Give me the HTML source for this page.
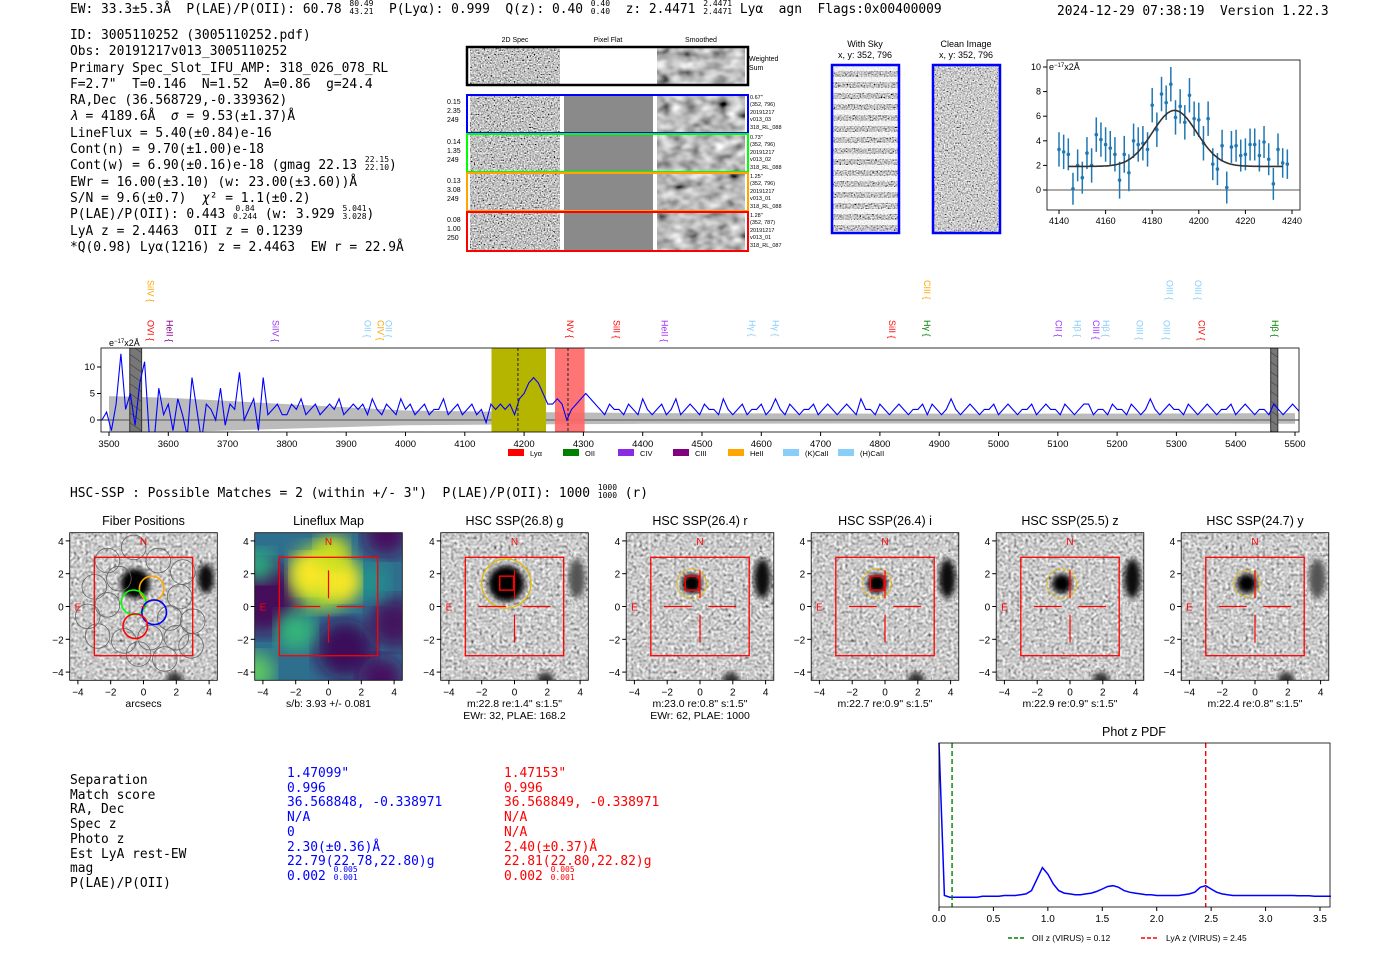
<!DOCTYPE html>
<html><head><meta charset="utf-8">
<style>
body{margin:0;background:#fff;width:1400px;height:953px;position:relative;overflow:hidden;font-family:"Liberation Sans","DejaVu Sans",sans-serif}
.m{position:absolute;font-family:"DejaVu Sans Mono","Liberation Mono",monospace;font-size:12.9px;white-space:pre;line-height:15px;color:#000}
.fr{display:inline-block;vertical-align:middle;font-size:8px;line-height:8px;text-align:center;margin-top:-4px}
.fr span{display:block}
svg{position:absolute;left:0;top:0}
</style></head><body>
<div class="m" style="left:70px;top:2px">EW: 33.3±5.3Å  P(LAE)/P(OII): 60.78 <span class="fr"><span>80.49</span><span>43.21</span></span>  P(Lyα): 0.999  Q(z): 0.40 <span class="fr"><span>0.40</span><span>0.40</span></span>  z: 2.4471 <span class="fr"><span>2.4471</span><span>2.4471</span></span> Lyα  agn  Flags:0x00400009</div>
<div class="m" style="left:1057px;top:4px">2024-12-29 07:38:19  Version 1.22.3</div>
<div class="m" style="left:70px;top:28px;line-height:16.3px">ID: 3005110252 (3005110252.pdf)
Obs: 20191217v013_3005110252
Primary Spec_Slot_IFU_AMP: 318_026_078_RL
F=2.7"  T=0.146  N=1.52  A=0.86  g=24.4
RA,Dec (36.568729,-0.339362)
<i>λ</i> = 4189.6Å  <i>σ</i> = 9.53(±1.37)Å
LineFlux = 5.40(±0.84)e-16
Cont(n) = 9.70(±1.00)e-18
Cont(w) = 6.90(±0.16)e-18 (gmag 22.13 <span class="fr"><span>22.15</span><span>22.10</span></span>)
EWr = 16.00(±3.10) (w: 23.00(±3.60))Å
S/N = 9.6(±0.7)  <i>χ</i>² = 1.1(±0.2)
P(LAE)/P(OII): 0.443 <span class="fr"><span>0.84</span><span>0.244</span></span> (w: 3.929 <span class="fr"><span>5.041</span><span>3.028</span></span>)
LyA z = 2.4463  OII z = 0.1239
*Q(0.98) Lyα(1216) z = 2.4463  EW r = 22.9Å</div>
<div class="m" style="left:70px;top:486px">HSC-SSP : Possible Matches = 2 (within +/- 3")  P(LAE)/P(OII): 1000 <span class="fr"><span>1000</span><span>1000</span></span> (r)</div>
<div class="m" style="left:70px;top:774px;line-height:14.7px">Separation
Match score
RA, Dec
Spec z
Photo z
Est LyA rest-EW
mag
P(LAE)/P(OII)</div>
<div class="m" style="left:287px;top:767px;line-height:14.7px;color:#00f">1.47099"
0.996
36.568848, -0.338971
N/A
0
2.30(±0.36)Å
22.79(22.78,22.80)g
0.002 <span class="fr"><span>0.005</span><span>0.001</span></span></div>
<div class="m" style="left:504px;top:767px;line-height:14.7px;color:#f00">1.47153"
0.996
36.568849, -0.338971
N/A
N/A
2.40(±0.37)Å
22.81(22.80,22.82)g
0.002 <span class="fr"><span>0.005</span><span>0.001</span></span></div>

<svg id="S" width="1400" height="953" xmlns="http://www.w3.org/2000/svg" font-family="Liberation Sans, DejaVu Sans, sans-serif">
<defs>
<filter id="nzF" x="0" y="0" width="100%" height="100%"><feTurbulence type="fractalNoise" baseFrequency="0.7" numOctaves="1" seed="4"/><feColorMatrix type="matrix" values="0.33 0.33 0.33 0 0 0.33 0.33 0.33 0 0 0.33 0.33 0.33 0 0 0 0 0 0 1"/><feComponentTransfer><feFuncR type="linear" slope="3.2" intercept="-1.05"/><feFuncG type="linear" slope="3.2" intercept="-1.05"/><feFuncB type="linear" slope="3.2" intercept="-1.05"/></feComponentTransfer></filter>
<filter id="nzS" x="0" y="0" width="100%" height="100%"><feTurbulence type="fractalNoise" baseFrequency="0.07 0.1" numOctaves="2" seed="7"/><feColorMatrix type="matrix" values="0.33 0.33 0.33 0 0 0.33 0.33 0.33 0 0 0.33 0.33 0.33 0 0 0 0 0 0 1"/><feComponentTransfer><feFuncR type="linear" slope="2.2" intercept="-0.6"/><feFuncG type="linear" slope="2.2" intercept="-0.6"/><feFuncB type="linear" slope="2.2" intercept="-0.6"/></feComponentTransfer></filter>
<filter id="nzH" x="0" y="0" width="100%" height="100%"><feTurbulence type="fractalNoise" baseFrequency="0.35" numOctaves="1" seed="11"/><feColorMatrix type="matrix" values="0.33 0.33 0.33 0 0 0.33 0.33 0.33 0 0 0.33 0.33 0.33 0 0 0 0 0 0 1"/><feComponentTransfer><feFuncR type="linear" slope="2.2" intercept="-0.5"/><feFuncG type="linear" slope="2.2" intercept="-0.5"/><feFuncB type="linear" slope="2.2" intercept="-0.5"/></feComponentTransfer></filter>
<filter id="bl3"><feGaussianBlur stdDeviation="3"/></filter>
<filter id="bl8"><feGaussianBlur stdDeviation="9"/></filter>
<pattern id="stripes" width="10" height="11" patternUnits="userSpaceOnUse"><rect width="10" height="5" fill="#fff" opacity="0.8"/></pattern>
<pattern id="hatch" width="8" height="8" patternUnits="userSpaceOnUse" patternTransform="rotate(-55)"><line x1="0" y1="0" x2="0" y2="8" stroke="#333" stroke-width="1"/></pattern>
</defs>

<g font-size="7">
<text x="515" y="42" text-anchor="middle">2D Spec</text>
<text x="608" y="42" text-anchor="middle">Pixel Flat</text>
<text x="701" y="42" text-anchor="middle">Smoothed</text>
<rect x="470" y="48" width="90" height="36" filter="url(#nzF)"/>
<rect x="657" y="48" width="88" height="36" filter="url(#nzS)"/>
<rect x="467" y="47" width="281" height="38" fill="none" stroke="#000" stroke-width="2.5"/>
<text x="749" y="61">Weighted</text><text x="749" y="70">Sum</text>
<rect x="470" y="96" width="90" height="155" filter="url(#nzF)"/>
<rect x="564" y="96" width="89" height="155" fill="#8a8a8a"/>
<rect x="657" y="96" width="88" height="155" filter="url(#nzS)"/>
<rect x="467" y="95" width="281" height="38" fill="none" stroke="#00f" stroke-width="2"/>
<rect x="467" y="134" width="281" height="38" fill="none" stroke="#0f0" stroke-width="2"/>
<rect x="467" y="173" width="281" height="38" fill="none" stroke="orange" stroke-width="2"/>
<rect x="467" y="212" width="281" height="39" fill="none" stroke="#f00" stroke-width="2"/>
<g font-size="7"><text x="447" y="104">0.15</text><text x="447" y="113">2.35</text><text x="447" y="122">249</text>
<text x="447" y="144">0.14</text><text x="447" y="153">1.35</text><text x="447" y="162">249</text>
<text x="447" y="183">0.13</text><text x="447" y="192">3.08</text><text x="447" y="201">249</text>
<text x="447" y="222">0.08</text><text x="447" y="231">1.00</text><text x="447" y="240">250</text></g>
<g font-size="5.5"><text x="750" y="99">0.67"</text><text x="750" y="106">(352, 796)</text><text x="750" y="114">20191217</text><text x="750" y="121">v013_03</text><text x="750" y="129">318_RL_088</text>
<text x="750" y="139">0.73"</text><text x="750" y="146">(352, 796)</text><text x="750" y="154">20191217</text><text x="750" y="161">v013_02</text><text x="750" y="169">318_RL_088</text>
<text x="750" y="178">1.25"</text><text x="750" y="185">(352, 796)</text><text x="750" y="193">20191217</text><text x="750" y="200">v013_01</text><text x="750" y="208">318_RL_088</text>
<text x="750" y="217">1.28"</text><text x="750" y="224">(352, 787)</text><text x="750" y="232">20191217</text><text x="750" y="239">v013_01</text><text x="750" y="247">318_RL_087</text></g>
</g>
<g>
<text x="865" y="47" font-size="9" text-anchor="middle">With Sky</text><text x="865" y="58" font-size="9" text-anchor="middle">x, y: 352, 796</text>
<rect x="832" y="65" width="67" height="168" filter="url(#nzF)"/>
<rect x="832" y="65" width="67" height="168" fill="url(#stripes)"/>
<rect x="832" y="65" width="67" height="168" fill="none" stroke="#00f" stroke-width="2.5"/>
</g>
<g>
<text x="966" y="47" font-size="9" text-anchor="middle">Clean Image</text><text x="966" y="58" font-size="9" text-anchor="middle">x, y: 352, 796</text>
<rect x="933" y="65" width="67" height="168" filter="url(#nzF)" opacity="0.85"/>
<rect x="933" y="65" width="67" height="168" fill="none" stroke="#00f" stroke-width="2.5"/>
</g>
<g id="zoomG"></g>
<g id="specG"></g>
<g id="imgG"></g>
<g id="pdfG"></g>
</svg>

<script>
// ---------- data ----------
const zoomWave0 = 4140, zoomStep = 2;
const zoomFlux = [3.3,3.1,2.9,0.1,2.0,1.0,3.0,2.0,4.5,4.1,3.7,3.4,2.9,0.8,2.9,1.4,4.0,3.7,3.8,3.3,6.9,4.9,7.8,7.1,8.6,5.9,6.8,5.5,7.7,5.8,5.7,3.8,5.8,2.1,1.7,3.6,0.2,3.5,3.6,2.8,2.9,3.7,3.7,2.8,3.9,2.5,0.5,3.3,2.2,2.1];
const zoomErr = [1.4,1.4,1.3,1.3,1.3,1.3,1.3,1.4,1.4,1.4,1.4,1.4,1.4,1.5,1.5,1.5,1.4,1.4,1.4,1.4,1.4,1.4,1.4,1.4,1.4,1.4,1.4,1.4,1.4,1.4,1.4,1.4,1.4,1.3,1.3,1.3,1.3,1.3,1.3,1.3,1.3,1.3,1.3,1.3,1.3,1.3,1.3,1.3,1.2,1.2];
const fitParams = [4189.6, 9.53, 4.55, 1.92];
const zoomXTicks = [4140,4160,4180,4200,4220,4240];
const zoomYTicks = [0,2,4,6,8,10];

const specWave0 = 3488, specStep = 8;
const specFlux = [0,1.5,-2,3,12.5,2,5,-1,7,11,
-3,-4,6,1,3,-2,4,1,-3,8,2,-4,3,2,0,6,-1,3,2,9,0,2,4,-2,8,1,2,3,1,
1,3,2,4,1,2,3,1,2,3,2,4,1,2,3,2,3,1,4,2,1,3,2,1,4,2,3,1,2,3,1,2,2,4,1,2,3,1,2,3,1,2,-0.5,3,2,3,2,
3,1,4,5,7,8,7,5,3,3,4,3,
0,2,3,4,5,4,3,2,1,3,2,
2,1,3,2,1,4,2,1,2,3,1,2,4,1,2,3,2,1,3,2,2,1,4,2,1,2,3,1,2,2,3,1,2,4,2,1,3,2,1,2,2,3,1,2,3,2,1,2,3,2,1,4,2,2,1,3,2,1,2,3,2,1,2,2,3,1,3,2,1,2,4,2,1,2,3,2,1,2,2,3,1,2,3,2,1,2,2,3,1,2,3,2,2,1,3,2,1,2,3,3,1,2,2,1,3,2,2,1,3,2,1,2,4,2,1,2,3,2,2,1,3,2,1,2,3,2,1,2,2,3,1,2,3,2,1,2,2,1,3,2,1,2,3,2,1,2,2];
const errWave = [3500,3600,3700,3800,3900,4000,4200,4400,4800,5200,5500];
const errVal = [4.5,4.2,3.6,3.0,2.4,1.8,1.5,1.3,1.2,1.2,1.3];
const specXTicks = [3500,3600,3700,3800,3900,4000,4100,4200,4300,4400,4500,4600,4700,4800,4900,5000,5100,5200,5300,5400,5500];
const specYTicks = [0,5,10];
const lineNames = ["SiIV","OVI","HeII","SiIV","OII","CIV","OII","NV","SiII","HeII","Hγ","Hγ","SiII","CIII","Hγ","CII","Hβ","CIII","Hβ","OIII","OIII","OIII","OIII","CIV","Hβ"];
const lineWaves = [3569,3569,3601,3780,3935,3957,3970,4276,4355,4436,4583,4623,4819,4878,4878,5100,5132,5163,5180,5237,5282,5287,5335,5341,5465];
const lineColors = ["orange","red","purple","#9b30ff","#87cefa","orange","#87cefa","red","red","#9b30ff","#87cefa","#87cefa","red","orange","green","#9b30ff","#87cefa","#9b30ff","#87cefa","#87cefa","#87cefa","#87cefa","#87cefa","red","green"];
const lineTop = [1,0,0,0,0,0,0,0,0,0,0,0,0,1,0,0,0,0,0,0,0,1,1,0,0];

const pdfZ0 = 0, pdfStep = 0.05;
const pdfVals = [1.0,0.07,0.06,0.06,0.06,0.06,0.06,0.06,0.065,0.065,0.065,0.065,0.07,0.07,0.07,0.075,0.08,0.1,0.17,0.24,0.2,0.14,0.1,0.085,0.08,0.075,0.075,0.08,0.085,0.095,0.11,0.125,0.13,0.12,0.1,0.09,0.085,0.08,0.075,0.075,0.07,0.07,0.07,0.07,0.07,0.075,0.08,0.09,0.12,0.13,0.11,0.09,0.08,0.075,0.07,0.07,0.07,0.07,0.07,0.07,0.07,0.07,0.07,0.07,0.07,0.07,0.068,0.068,0.068,0.066,0.066,0.065,0.065];
const pdfXTicks = [0,0.5,1.0,1.5,2.0,2.5,3.0,3.5];
const pdfMarkers = [0.12, 2.45];

const panelTitles = ["Fiber Positions","Lineflux Map","HSC SSP(26.8) g","HSC SSP(26.4) r","HSC SSP(26.4) i","HSC SSP(25.5) z","HSC SSP(24.7) y"];
const panelSub1 = ["arcsecs","s/b: 3.93 +/- 0.081","m:22.8  re:1.4\"  s:1.5\"","m:23.0  re:0.8\"  s:1.5\"","m:22.7  re:0.9\"  s:1.5\"","m:22.9  re:0.9\"  s:1.5\"","m:22.4  re:0.8\"  s:1.5\""];
const panelSub2 = ["","","EWr: 32, PLAE: 168.2","EWr: 62, PLAE: 1000","","",""];
const apRadius = [0,0,1.5,0.9,0.9,0.9,0.8];

const NS="http://www.w3.org/2000/svg";
function mk(tag,attrs,parent){const e=document.createElementNS(NS,tag);for(const k in attrs)e.setAttribute(k,attrs[k]);parent.appendChild(e);return e;}
function txt(s,attrs,parent){const e=mk('text',attrs,parent);e.textContent=s;return e;}

// ---------- zoom plot ----------
(function(){
 const g=document.getElementById('zoomG');
 const L=1047,R=1300,T=60,B=210;
 const X=w=>1059+(w-4140)*(1292-1059)/100, Y=v=>190-v*12.3;
 const ax=mk('rect',{x:L,y:T,width:R-L,height:B-T,fill:'none',stroke:'#000','stroke-width':0.8},g);
 
 
 mk('line',{x1:L,x2:R,y1:Y(0),y2:Y(0),stroke:'#555','stroke-width':1},g);
 zoomXTicks.forEach(t=>{mk('line',{x1:X(t),x2:X(t),y1:B,y2:B+4,stroke:'#000'},g);const e=txt(t,{x:X(t),y:B+14,'font-size':9,'text-anchor':'middle'},g);
  
  });
 zoomYTicks.forEach(t=>{mk('line',{x1:L-4,x2:L,y1:Y(t),y2:Y(t),stroke:'#000'},g);const e=txt(t,{x:L-6,y:Y(t)+3,'font-size':9,'text-anchor':'end'},g);
  
  });
 const u=txt('e',{x:L+2,y:T+10,'font-size':9},g);u.innerHTML='e<tspan dy="-3" font-size="6">−17</tspan><tspan dy="3">x2Å</tspan>';
 
 
 zoomFlux.forEach((v,i)=>{const w=zoomWave0+i*zoomStep;
  const eb=mk('line',{x1:X(w),x2:X(w),y1:Y(v-zoomErr[i]),y2:Y(v+zoomErr[i]),stroke:'#1f77b4','stroke-width':1.5},g);
  
  
  const p=mk('circle',{cx:X(w),cy:Y(v),r:1.8,fill:'#1f77b4'},g);
  
  });
 let d='';for(let w=4144;w<=4236;w+=0.5){const v=fitParams[3]+fitParams[2]*Math.exp(-0.5*((w-fitParams[0])/fitParams[1])**2);d+=(d?'L':'M')+X(w).toFixed(1)+','+Y(v).toFixed(1);}
 const f=mk('path',{d:d,fill:'none',stroke:'#333','stroke-width':1.6},g);
 
 
})();

// ---------- full spectrum ----------
(function(){
 const g=document.getElementById('specG');
 const L=101,R=1299,T=348,B=432;
 const X=w=>109+(w-3500)*(1295-109)/2000, Y=v=>420-v*5.3;
 const cp=mk('clipPath',{id:'spc'},g);mk('rect',{x:L,y:T,width:R-L,height:B-T},cp);
 const inner=mk('g',{'clip-path':'url(#spc)'},g);
 let up='',dn='';
 for(let i=0;i<errWave.length;i++){up+=(i?'L':'M')+X(errWave[i])+','+Y(errVal[i]);}
 for(let i=errWave.length-1;i>=0;i--){dn+='L'+X(errWave[i])+','+Y(-errVal[i]*0.55);}
 const band=mk('path',{d:up+dn+'Z',fill:'#bbb'},inner);
 
 
 mk('line',{x1:L,x2:R,y1:Y(0),y2:Y(0),stroke:'#777','stroke-width':1.5},inner);
 const yb=mk('rect',{x:X(4145),y:T,width:X(4237)-X(4145),height:B-T,fill:'#b5b500'},inner);
 
 
 const rb=mk('rect',{x:X(4252),y:T,width:X(4302)-X(4252),height:B-T,fill:'#f66',opacity:0.9},inner);
 
 
 [[3535,3555],[5459,5471]].forEach(r=>{const gb=mk('rect',{x:X(r[0]),y:T,width:X(r[1])-X(r[0]),height:B-T,fill:'#777',stroke:'#333'},inner);
  
  
  mk('rect',{x:X(r[0]),y:T,width:X(r[1])-X(r[0]),height:B-T,fill:'url(#hatch)'},inner);});
 let d='';specFlux.forEach((v,i)=>{d+=(i?'L':'M')+X(specWave0+i*specStep).toFixed(1)+','+Y(v).toFixed(1);});
 const ln=mk('path',{d:d,fill:'none',stroke:'#00f','stroke-width':1.1},inner);
 
 
 [4189.6,4274].forEach(w=>mk('line',{x1:X(w),x2:X(w),y1:T,y2:B,stroke:'#222','stroke-dasharray':'3,2'},inner));
 const fr=mk('rect',{x:L,y:T,width:R-L,height:B-T,fill:'none',stroke:'#000','stroke-width':0.8},g);
 
 
 specXTicks.forEach(t=>{mk('line',{x1:X(t),x2:X(t),y1:B,y2:B+4,stroke:'#000'},g);const e=txt(t,{x:X(t),y:B+15,'font-size':9.5,'text-anchor':'middle'},g);
  
  });
 specYTicks.forEach(t=>{mk('line',{x1:L-4,x2:L,y1:Y(t),y2:Y(t),stroke:'#000'},g);const e=txt(t,{x:L-6,y:Y(t)+3,'font-size':9.5,'text-anchor':'end'},g);
  
  });
 const u=txt('',{x:109,y:346,'font-size':9},g);u.innerHTML='e<tspan dy="-3" font-size="6">−17</tspan><tspan dy="3">x2Å</tspan>';
 
 
 lineNames.forEach((n,i)=>{const x=X(lineWaves[i]);const y=lineTop[i]?280:320;
  const e=txt(n+' {',{x:x,y:y,'font-size':9,fill:lineColors[i],transform:`rotate(90 ${x} ${y})`,'dominant-baseline':'middle'},g);
  
  });
 const legN=["Lyα","OII","CIV","CIII","HeII","(K)CaII","(H)CaII"];
 const legC=["red","green","#8a2be2","purple","orange","#87cefa","#87cefa"];
 legN.forEach((n,i)=>{const x=508+i*55;const r=mk('rect',{x:x,y:449,width:16,height:7,fill:legC[i]},g);
  
  
  const e=txt(n,{x:x+22,y:456,'font-size':7.5},g);
  
  });
})();

// ---------- imaging panels ----------
(function(){
 const g=document.getElementById('imgG');
 const cxs=[143.5,328.5,514.5,700,885,1070,1255], cy=606.5, s=16.4;
 cxs.forEach((cx,p)=>{
  const pg=mk('g',{},g);
  
  
  const L=cx-4.5*s,T=cy-4.5*s,W=9*s;
  const A=(x,y)=>[cx+x*s,cy-y*s];
  const cid='pc'+p;const cp=mk('clipPath',{id:cid},pg);mk('rect',{x:L,y:T,width:W,height:W},cp);
  const ig=mk('g',{'clip-path':`url(#${cid})`},pg);
  if(p===1){
   mk('rect',{x:L,y:T,width:W,height:W,fill:'#2f6f8e'},ig);
   [[-4,0.5,2.2,'#440f5a'],[1,-2.6,1.8,'#3b0f5a'],[4,-1,1.6,'#43185f'],[3.5,4.4,1.4,'#46105f'],[3.2,-4.4,1.4,'#46105f'],[-4.3,2.5,1.0,'#2ab07f'],[-4.5,-4,1.2,'#5ec962'],[-2,-1.5,1.2,'#35b779'],[2.5,1.5,1.2,'#21918c'],[-0.3,1.8,2.0,'#b5de2b'],[-1.0,2.0,1.2,'#fde725'],[0.8,1.5,1.1,'#fde725'],[0.2,3.3,1.0,'#d0e11c']].forEach(b=>{const [x,y]=A(b[0],b[1]);mk('circle',{cx:x,cy:y,r:b[2]*s,fill:b[3],filter:'url(#bl8)'},ig);});
  } else {
   mk('rect',{x:L,y:T,width:W,height:W,filter:'url(#nzH)'},ig);
   const [sx,sy]=A(-0.5,1.4);
   const sr=p===0?0.9:(p===2?1.1:0.6);
   mk('circle',{cx:sx,cy:sy,r:sr*s,fill:'#000',filter:'url(#bl3)'},ig);
   const [ex,ey]=A(3.8,1.7);
   mk('ellipse',{cx:ex,cy:ey,rx:0.5*s,ry:(p===0?0.9:1.2)*s,fill:(p===2||p===6)?'#555':'#111',filter:'url(#bl3)'},ig);
   const [bx,by]=A(1.9,-4.5);mk('circle',{cx:bx,cy:by,r:0.5*s,fill:'#333',filter:'url(#bl3)'},ig);
  }
  if(p===0){
   const fib=[[-2.2,2.8],[-0.6,3.6],[0.9,2.8],[2.4,2.1],[-3.0,1.2],[-1.5,1.7],[2.2,0.6],[-2.2,0.1],[-3.4,-0.6],[1.6,-0.7],[-2.8,-1.8],[-1.2,-2.1],[0.4,-1.9],[2.0,-1.9],[-0.3,-2.9],[1.3,-3.2],[2.9,-2.4],[3.0,-0.9]];
   fib.forEach(f=>{const [x,y]=A(f[0],f[1]);mk('circle',{cx:x,cy:y,r:0.75*s,fill:'none',stroke:'#666','stroke-width':0.8},ig);});
   [[0.5,1.1,'orange'],[-0.6,0.25,'#0f0'],[0.65,-0.35,'#00f'],[-0.5,-1.2,'#f00']].forEach(f=>{const [x,y]=A(f[0],f[1]);const c=mk('circle',{cx:x,cy:y,r:0.75*s,fill:'none',stroke:f[2],'stroke-width':1.6},ig);
    
    });
  }
  if(p>=2){
   const [ex,ey]=A(3.8,1.7);mk('ellipse',{cx:ex,cy:ey,rx:0.8*s,ry:1.6*s,fill:'none',stroke:'#eee','stroke-dasharray':'2,2'},ig);
   const [bx,by]=A(1.9,-4.4);mk('circle',{cx:bx,cy:by,r:1.0*s,fill:'none',stroke:'#eee','stroke-dasharray':'2,2'},ig);
   const [ax,ay]=A(-0.5,1.4);const ap=mk('circle',{cx:ax,cy:ay,r:apRadius[p]*s,fill:'none',stroke:'#e6b800','stroke-width':1.3,'stroke-dasharray':p===2?'':'3,2'},ig);
   
   
   if(p===2||p===3||p===4){mk('rect',{x:ax-0.4*s,y:ay-0.45*s,width:0.85*s,height:0.85*s,fill:'none',stroke:'#f00','stroke-width':1.5},ig);}
  }
  const [rx,ry]=A(-3,3);mk('rect',{x:rx,y:ry,width:6*s,height:6*s,fill:'none',stroke:'#f00','stroke-width':1.3},ig);
  if(p>=1){[[-2.2,0,-0.5,0],[0.5,0,2.2,0],[0,0.5,0,2.2],[0,-0.5,0,-2.2]].forEach(l=>{const [x1,y1]=A(l[0],l[1]),[x2,y2]=A(l[2],l[3]);mk('line',{x1,y1,x2,y2,stroke:'#f00','stroke-width':1.2},ig);});}
  else {mk('text',{x:cx-3,y:cy+4,'font-size':10,fill:'#f00'},ig).textContent='+';}
  const [nx,ny]=A(0,4);txt('N',{x:nx,y:ny+4,'font-size':10,fill:'#f00','text-anchor':'middle'},ig);
  const [Ex,Ey]=A(-4,0);txt('E',{x:Ex,y:Ey+4,'font-size':10,fill:'#f00','text-anchor':'middle'},ig);
  mk('rect',{x:L,y:T,width:W,height:W,fill:'none',stroke:'#000','stroke-width':0.8},pg);
  [-4,-2,0,2,4].forEach(t=>{const [x,y]=A(t,t);
   mk('line',{x1:x,x2:x,y1:T+W,y2:T+W+4,stroke:'#000'},pg);
   txt(String(t).replace('-','−'),{x:x,y:T+W+15,'font-size':10,'text-anchor':'middle'},pg);
   mk('line',{x1:L-4,x2:L,y1:y,y2:y,stroke:'#000'},pg);
   txt(String(t).replace('-','−'),{x:L-6,y:y+4,'font-size':10,'text-anchor':'end'},pg);});
  const ti=txt(panelTitles[p],{x:cx,y:525,'font-size':12.5,'text-anchor':'middle'},pg);
  
  
  txt(panelSub1[p],{x:cx,y:707,'font-size':10.5,'text-anchor':'middle'},pg);
  if(panelSub2[p])txt(panelSub2[p],{x:cx,y:719,'font-size':10.5,'text-anchor':'middle'},pg);
 });
})();

// ---------- phot-z PDF ----------
(function(){
 const g=document.getElementById('pdfG');
 const L=939,R=1330,T=743,B=907;
 const X=z=>939+z*(1320-939)/3.5, Y=v=>B-v*(B-T);
 txt('Phot z PDF',{x:1134,y:736,'font-size':12.5,'text-anchor':'middle'},g);
 let d='';pdfVals.forEach((v,i)=>{d+=(i?'L':'M')+X(pdfZ0+i*pdfStep).toFixed(1)+','+Y(v).toFixed(1);});
 const ln=mk('path',{d:d,fill:'none',stroke:'#00f','stroke-width':1.5},g);
 
 
 const mc=['green','red'];
 pdfMarkers.forEach((z,i)=>{const m=mk('line',{x1:X(z),x2:X(z),y1:T,y2:B,stroke:mc[i],'stroke-width':1.4,'stroke-dasharray':'5,3'},g);
  
  });
 mk('rect',{x:L,y:T,width:R-L,height:B-T,fill:'none',stroke:'#000','stroke-width':0.8},g);
 pdfXTicks.forEach(t=>{mk('line',{x1:X(t),x2:X(t),y1:B,y2:B+4,stroke:'#000'},g);const e=txt(t.toFixed(1),{x:X(t),y:B+15,'font-size':10,'text-anchor':'middle'},g);
  
  });
 mk('line',{x1:1008,x2:1026,y1:938,y2:938,stroke:'green','stroke-width':1.4,'stroke-dasharray':'4,2'},g);
 txt('OII z (VIRUS) = 0.12',{x:1032,y:941,'font-size':8.5},g);
 mk('line',{x1:1141,x2:1159,y1:938,y2:938,stroke:'red','stroke-width':1.4,'stroke-dasharray':'4,2'},g);
 txt('LyA z (VIRUS) = 2.45',{x:1166,y:941,'font-size':8.5},g);
})();
</script>
</body></html>
